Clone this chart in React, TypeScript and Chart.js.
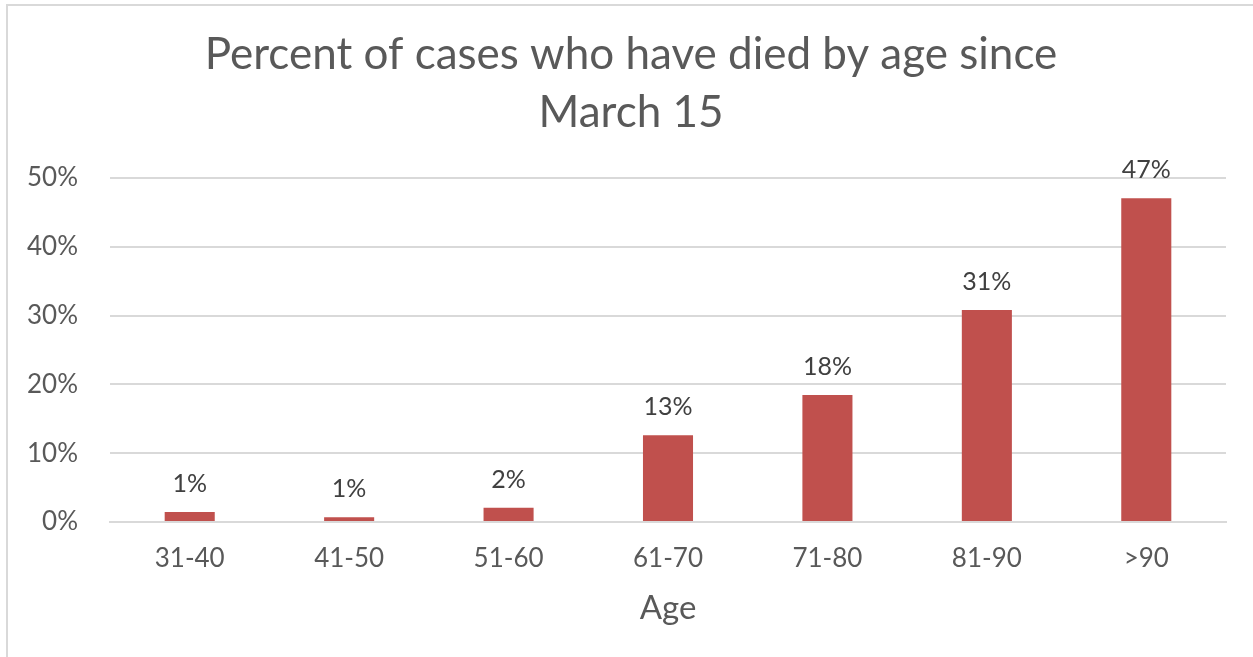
import React, { useEffect, useRef } from "react";
import { Chart, registerables } from "chart.js";

Chart.register(...registerables);

const categories = ["31-40", "41-50", "51-60", "61-70", "71-80", "81-90", ">90"];
const deathPercent = [1.45, 0.68, 2.08, 12.6, 18.45, 30.8, 47.05];
const yTicks = [0, 10, 20, 30, 40, 50];
const titleLines = ["Percent of cases who have died by age since", "March 15"];
const xAxisTitle = "Age";

const FONT = "Lato, 'Open Sans', sans-serif";

const dataLabelPlugin = {
  id: "dataLabels",
  afterDatasetsDraw(chart: any) {
    const ctx = chart.ctx;
    const meta = chart.getDatasetMeta(0);
    ctx.save();
    ctx.font = `25px ${FONT}`;
    ctx.fillStyle = "#404040";
    ctx.textAlign = "center";
    ctx.textBaseline = "middle";
    meta.data.forEach((bar: any, i: number) => {
      const v = chart.data.datasets[0].data[i] as number;
      ctx.fillText(Math.round(v) + "%", bar.x, bar.y - 28);
    });
    ctx.restore();
  },
};

const titlePlugin = {
  id: "centeredTitle",
  afterDraw(chart: any) {
    const ctx = chart.ctx;
    ctx.save();
    ctx.font = `44px ${FONT}`;
    ctx.fillStyle = "#595959";
    ctx.textAlign = "center";
    ctx.textBaseline = "middle";
    titleLines.forEach((line, i) => {
      ctx.fillText(line, 631, 55 + i * 58);
    });
    ctx.restore();
  },
};

export default function App() {
  const ref = useRef<HTMLCanvasElement>(null);

  useEffect(() => {
    document.body.style.margin = "0";
    const chart = new Chart(ref.current!, {
      type: "bar",
      data: {
        labels: categories,
        datasets: [
          {
            data: deathPercent,
            backgroundColor: "#C0504D",
            borderWidth: 0,
            categoryPercentage: 1,
            barPercentage: 0.314,
          },
        ],
      },
      options: {
        animation: false,
        responsive: false,
        layout: { padding: { left: 0, right: 27, top: 178, bottom: 0 } },
        plugins: {
          legend: { display: false },
          tooltip: { enabled: false },
          title: { display: false },
        },
        scales: {
          x: {
            grid: { display: false, drawTicks: false },
            border: { display: true, color: "#d9d9d9", width: 2 },
            ticks: { color: "#595959", font: { family: FONT, size: 26 }, padding: 21 },
            title: {
              display: true,
              text: xAxisTitle,
              color: "#595959",
              font: { family: FONT, size: 33 },
              padding: { top: 0, bottom: 29 },
            },
            afterFit: (scale: any) => {
              scale.height = 135;
            },
          },
          y: {
            min: 0,
            max: 50,
            afterBuildTicks: (scale: any) => {
              scale.ticks = yTicks.map((v) => ({ value: v }));
            },
            grid: { color: "#d9d9d9", lineWidth: 2, drawTicks: false },
            border: { display: false },
            ticks: {
              color: "#595959",
              font: { family: FONT, size: 26 },
              padding: 32,
              callback: (v: any) => v + "%",
            },
            afterFit: (scale: any) => {
              scale.width = 110;
            },
          },
        },
      },
      plugins: [dataLabelPlugin, titlePlugin],
    });
    return () => chart.destroy();
  }, []);

  return (
    <div style={{ position: "relative", width: 1253, height: 657, overflow: "hidden", background: "#fff" }}>
      <canvas ref={ref} width={1253} height={657} style={{ position: "absolute", left: 0, top: 0 }} />
      <div
        style={{
          position: "absolute",
          left: 6,
          top: 4,
          width: 1300,
          height: 700,
          borderLeft: "2px solid #d9d9d9",
          borderTop: "2px solid #d9d9d9",
          pointerEvents: "none",
        }}
      />
    </div>
  );
}
